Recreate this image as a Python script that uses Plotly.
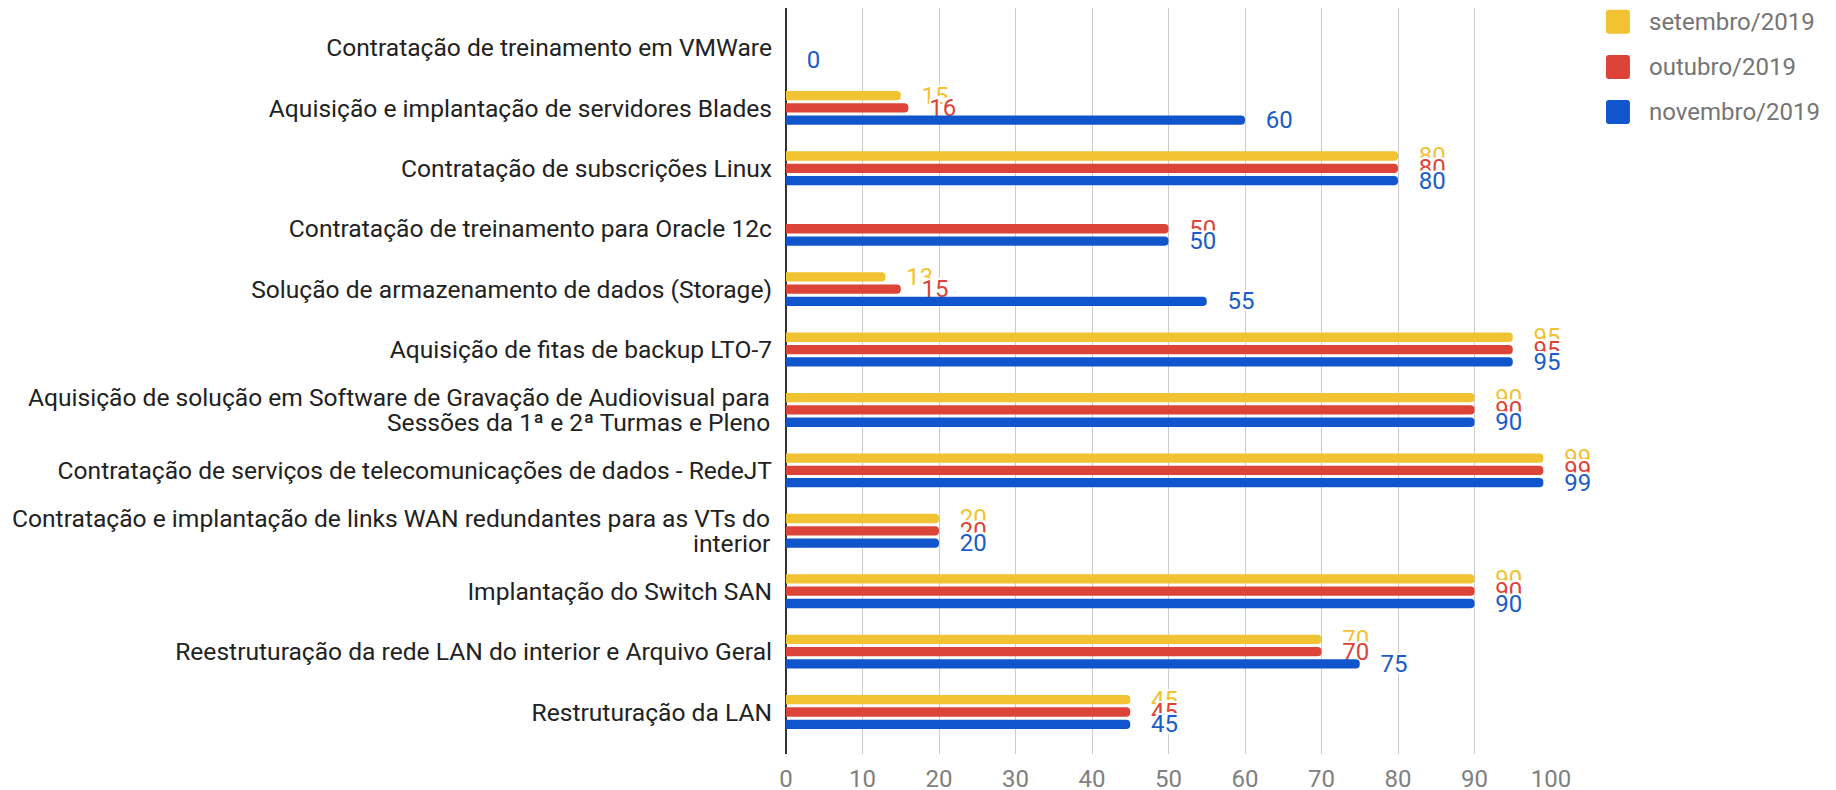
import plotly.graph_objects as go

categories = [
    "Contratação de treinamento em VMWare",
    "Aquisição e implantação de servidores Blades",
    "Contratação de subscrições Linux",
    "Contratação de treinamento para Oracle 12c",
    "Solução de armazenamento de dados (Storage)",
    "Aquisição de fitas de backup LTO-7",
    "Aquisição de solução em Software de Gravação de Audiovisual para<br>Sessões da 1ª e 2ª Turmas e Pleno",
    "Contratação de serviços de telecomunicações de dados - RedeJT",
    "Contratação e implantação de links WAN redundantes para as VTs do<br>interior",
    "Implantação do Switch SAN",
    "Reestruturação da rede LAN do interior e Arquivo Geral",
    "Restruturação da LAN",
]
series_names = ["setembro/2019", "outubro/2019", "novembro/2019"]
setembro = [None, 15, 80, None, 13, 95, 90, 99, 20, 90, 70, 45]
outubro = [None, 16, 80, 50, 15, 95, 90, 99, 20, 90, 70, 45]
novembro = [0, 60, 80, 50, 55, 95, 90, 99, 20, 90, 75, 45]
x_ticks = [0, 10, 20, 30, 40, 50, 60, 70, 80, 90, 100]

colors = ["#F1C232", "#DB4437", "#1155CC"]
label_colors = ["#F1C232", "#DB4437", "#1A5CC8"]

W, H = 1836, 790
# plot area in figure pixels (page has an 8px body margin)
L, R, T, B = 777.5, 1543, 0, 746

halo = ("-2px -2px 0 #fff, 2px -2px 0 #fff, -2px 2px 0 #fff, 2px 2px 0 #fff, "
        "0 2px 0 #fff, 0 -2px 0 #fff, 2px 0 0 #fff, -2px 0 0 #fff")

fig = go.Figure()
for name, vals, c, lc in zip(series_names, [setembro, outubro, novembro], colors, label_colors):
    texts = [("\u00a0\u00a0\u00a0" + str(v)) if v is not None else "" for v in vals]
    fig.add_trace(go.Bar(
        y=categories, x=vals, name=name, orientation="h",
        marker=dict(color=c, cornerradius=4, line=dict(width=0)),
        text=texts, textposition="outside", constraintext="none",
        textfont=dict(family="Roboto", size=24, color=lc, shadow=halo),
        cliponaxis=False, showlegend=False, hoverinfo="x+name",
    ))

def px2x(px):
    return (px - L) / (R - L)

def py2y(py):
    return (B - py) / (B - T)

shapes = []
annotations = []
leg_y = [13.7, 59, 104]
for name, c, yc in zip(series_names, colors, leg_y):
    x0, x1 = 1598, 1622
    y0, y1 = yc - 12, yc + 12
    r = 3
    def P(x, y):
        return f"{px2x(x):.5f},{py2y(y):.5f}"
    path = (f"M {P(x0 + r, y0)} L {P(x1 - r, y0)} Q {P(x1, y0)} {P(x1, y0 + r)} "
            f"L {P(x1, y1 - r)} Q {P(x1, y1)} {P(x1 - r, y1)} L {P(x0 + r, y1)} "
            f"Q {P(x0, y1)} {P(x0, y1 - r)} L {P(x0, y0 + r)} Q {P(x0, y0)} {P(x0 + r, y0)} Z")
    shapes.append(dict(type="path", xref="paper", yref="paper", path=path,
                       fillcolor=c, line=dict(width=0)))
    annotations.append(dict(xref="paper", yref="paper", x=px2x(1639), y=py2y(yc),
                            xanchor="left", yanchor="middle", showarrow=False,
                            text=name, font=dict(family="Roboto", size=24, color="#757575")))

# category labels: single-line ones as tick labels, two-line ones as tighter stacked annotations
label_font = dict(family="Roboto", size=24.6, color="#222222")
ticktext = []
for cat in categories:
    lines = cat.split("<br>")
    if len(lines) == 1:
        ticktext.append(cat)
    else:
        ticktext.append("")
        n = len(lines)
        for i, ln in enumerate(lines):
            annotations.append(dict(xref="paper", yref="y", x=0, y=cat, xshift=-14,
                                    yshift=(n - 1) * 12.5 - i * 25,
                                    xanchor="right", yanchor="middle", showarrow=False,
                                    text=ln, font=label_font))

fig.update_layout(
    width=W, height=H,
    margin=dict(l=L, r=W - R, t=T, b=H - B, pad=0),
    paper_bgcolor="white", plot_bgcolor="white",
    barmode="group", bargap=0.389, bargroupgap=0.244,
    font=dict(family="Roboto"),
    shapes=shapes, annotations=annotations,
    xaxis=dict(range=[0, 100], tickvals=x_ticks, ticktext=[str(t) for t in x_ticks],
               showgrid=True, gridcolor="#CCCCCC", gridwidth=1, zeroline=True,
               zerolinecolor="#333333", zerolinewidth=1.5, showline=False,
               tickfont=dict(family="Roboto", size=24, color="#808080"), ticks="",
               ticklen=0, ticklabelstandoff=8),
    yaxis=dict(type="category", range=[11.695, -0.654], showgrid=False, showline=False,
               zeroline=False, ticks="", ticklabelstandoff=13,
               tickvals=categories, ticktext=ticktext,
               tickfont=label_font),
)

fig.write_html("out.html")
